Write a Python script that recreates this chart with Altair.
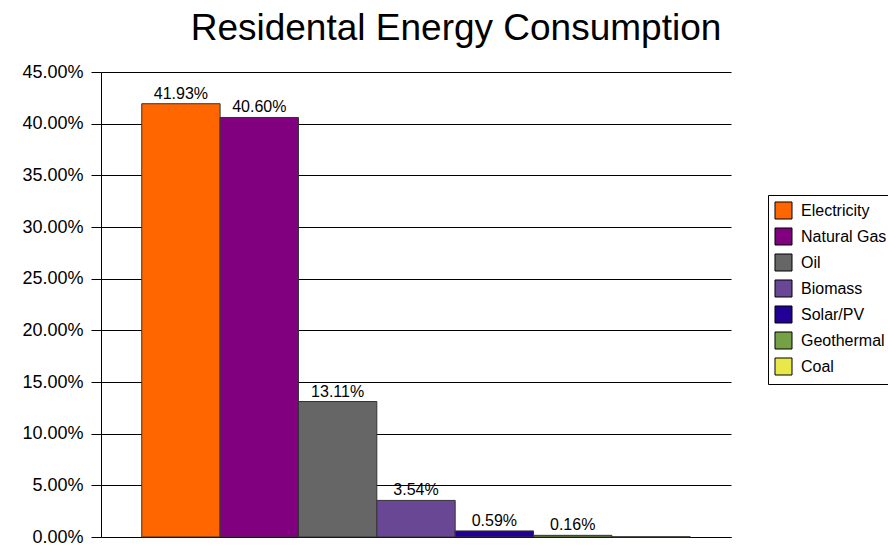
import altair as alt
import pandas as pd

# Residential energy consumption share by source (percent)
sources = ["Electricity", "Natural Gas", "Oil", "Biomass", "Solar/PV", "Geothermal", "Coal"]
shares = [41.93, 40.60, 13.11, 3.54, 0.59, 0.16, 0.02]
labels = ["41.93%", "40.60%", "13.11%", "3.54%", "0.59%", "0.16%", ""]
colors = ["#FF6600", "#800080", "#666666", "#6A4795", "#220096", "#76A045", "#E8E84A"]
y_ticks = [0, 5, 10, 15, 20, 25, 30, 35, 40, 45]

df = pd.DataFrame({
    "source": sources,
    "share": [s / 100 for s in shares],
    "label": labels,
})

font = "Liberation Sans"

x = alt.X(
    "source:N",
    sort=sources,
    scale=alt.Scale(paddingInner=0, paddingOuter=0.52),
    axis=alt.Axis(title=None, labels=False, ticks=False, domain=True,
                  domainColor="black", grid=False),
)

y = alt.Y(
    "share:Q",
    scale=alt.Scale(domain=[0, 0.45], nice=False),
    axis=alt.Axis(
        title=None,
        values=[v / 100 for v in y_ticks],
        format=".2%",
        labelFont=font,
        labelFontSize=18,
        labelColor="black",
        labelPadding=8,
        tickSize=10,
        tickColor="black",
        domainColor="black",
        gridColor="black",
        gridWidth=1,
    ),
)

bars = alt.Chart(df).mark_bar(stroke="#333333", strokeWidth=1).encode(
    x=x,
    y=y,
    color=alt.Color(
        "source:N",
        sort=sources,
        scale=alt.Scale(domain=sources, range=colors),
        legend=alt.Legend(
            title=None,
            orient="none",
            legendX=667,
            legendY=123,
            symbolType="square",
            symbolSize=290,
            symbolStrokeColor="black",
            symbolStrokeWidth=1,
            labelFont=font,
            labelFontSize=16,
            labelColor="black",
            labelOffset=8,
            rowPadding=3,
            padding=6,
            strokeColor="black",
            fillColor="white",
            labelLimit=200,
        ),
    ),
)

text = alt.Chart(df).mark_text(
    baseline="bottom", dy=-2, font=font, fontSize=16, color="black"
).encode(x=x, y="share:Q", text="label:N")

chart = (
    alt.layer(bars, text)
    .properties(
        width=630,
        height=465,
        padding={"left": 101, "top": 72, "right": 157, "bottom": 9},
        autosize=alt.AutoSizeParams(type="none"),
        title=alt.TitleParams(
            "Residental Energy Consumption",
            font=font,
            fontSize=37,
            fontWeight="normal",
            color="black",
            anchor="middle",
            dx=40,
            offset=15,
        ),
        background="white",
    )
    .configure_view(stroke=None)
)

chart.save("out.html", embed_options={"renderer": "svg", "actions": False})
